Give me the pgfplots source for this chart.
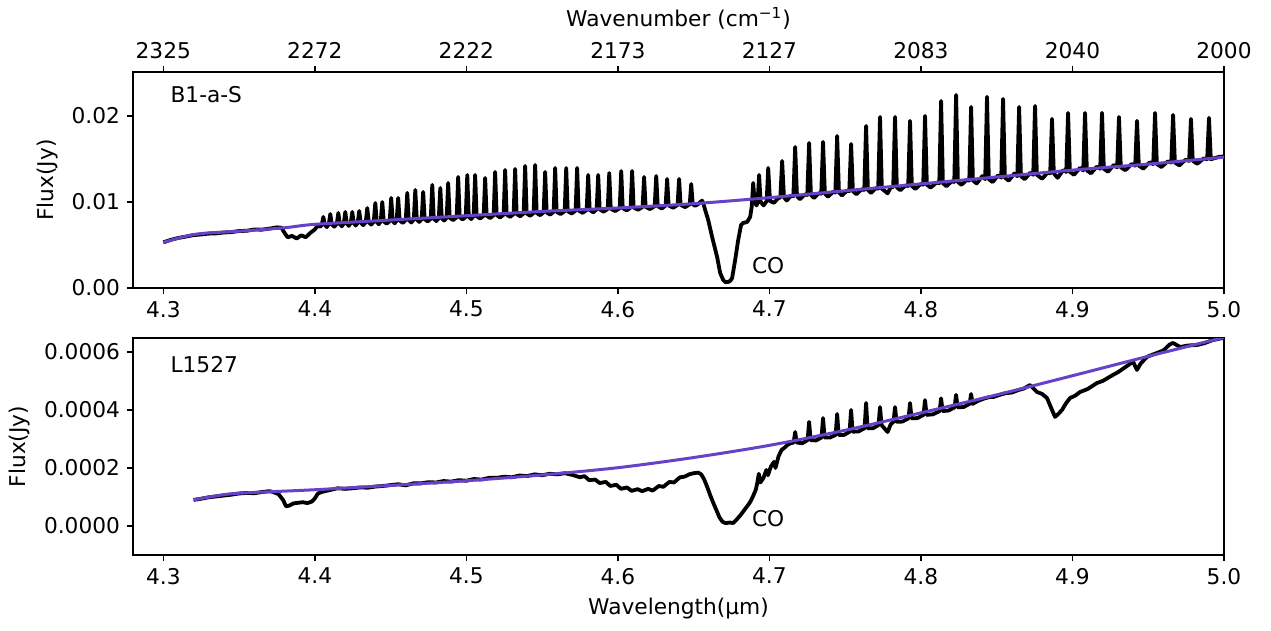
\documentclass[border=0pt]{standalone}
\usepackage{fontspec}
\setmainfont{DejaVu Sans}
\usepackage{pgfplots}
\pgfplotsset{compat=1.18}
\definecolor{fitc}{RGB}{102,66,200}
\pgfplotsset{
  every axis/.append style={font=\fontsize{10.85bp}{13bp}\selectfont},
  myax/.style={
    scale only axis, width=545.5bp, anchor=north west,
    xmin=4.28, xmax=5.0,
    tick align=outside, major tick length=3bp,
    xtick pos=bottom, ytick pos=left,
    xtick={4.3,4.4,4.5,4.6,4.7,4.8,4.9,5.0},
    xticklabel={\pgfmathprintnumber[assume math mode=true,fixed,fixed zerofill,precision=1]{\tick}},
    axis line style={line width=0.8bp},
    every tick/.style={black, line width=0.8bp},
    scaled ticks=false,
    ylabel={Flux(Jy)},
  },
  spec/.style={black, line width=1.9bp, line join=round},
  fit/.style={fitc, line width=1.5bp, smooth},
}
\begin{document}
\begin{tikzpicture}
\useasboundingbox (0,0) rectangle (635.5bp,-315.5bp);
% ---------- top panel ----------
\begin{axis}[myax, at={(66.5bp,-36bp)}, height=108bp,
  ymin=0, ymax=0.0251,
  ytick={0,0.01,0.02},
  yticklabel={\pgfmathprintnumber[assume math mode=true,fixed,fixed zerofill,precision=2]{\tick}},
]
\addplot[spec] coordinates {
(4.300,0.00530)(4.305,0.00560)(4.310,0.00582)(4.315,0.00598)(4.320,0.00615)(4.325,0.00622)
(4.330,0.00632)(4.335,0.00635)(4.340,0.00645)(4.345,0.00650)(4.350,0.00662)(4.355,0.00665)
(4.360,0.00680)(4.365,0.00678)(4.370,0.00690)(4.375,0.00705)(4.378,0.00700)(4.380,0.00640)
(4.382,0.00590)(4.385,0.00605)(4.388,0.00575)(4.391,0.00612)(4.394,0.00590)(4.397,0.00640)
(4.400,0.00680)(4.402,0.00730)(4.4035,0.00710)
(4.4046,0.00735)(4.4056,0.00826)(4.4066,0.00735)(4.4079,0.00708)
(4.4092,0.00740)(4.4102,0.00860)(4.4112,0.00740)(4.41285,0.00713)
(4.4145,0.00745)(4.4155,0.00872)(4.4165,0.00745)(4.4178,0.00717)
(4.4191,0.00750)(4.4201,0.00884)(4.4211,0.00750)(4.4224,0.00722)
(4.4237,0.00754)(4.4247,0.00884)(4.4257,0.00754)(4.4270,0.00726)
(4.4283,0.00759)(4.4293,0.00895)(4.4303,0.00759)(4.43195,0.00731)
(4.4336,0.00764)(4.4346,0.00930)(4.4356,0.00764)(4.43725,0.00737)
(4.4389,0.00769)(4.4399,0.00988)(4.4409,0.00769)(4.4422,0.00741)
(4.4435,0.00774)(4.4445,0.01000)(4.4455,0.00774)(4.44745,0.00747)
(4.4494,0.00779)(4.4504,0.01047)(4.4514,0.00779)(4.4527,0.00752)
(4.4540,0.00784)(4.4550,0.01047)(4.4560,0.00784)(4.4580,0.00757)
(4.4600,0.00790)(4.4610,0.01105)(4.4620,0.00790)(4.46365,0.00762)
(4.4653,0.00795)(4.4663,0.01140)(4.4673,0.00795)(4.4689,0.00768)
(4.4705,0.00800)(4.4715,0.01116)(4.4725,0.00800)(4.4745,0.00773)
(4.4765,0.00806)(4.4775,0.01198)(4.4785,0.00806)(4.48015,0.00778)
(4.4818,0.00811)(4.4828,0.01163)(4.4838,0.00811)(4.4854,0.00784)
(4.4870,0.00816)(4.4880,0.01221)(4.4890,0.00816)(4.4913,0.00789)
(4.4936,0.00823)(4.4946,0.01291)(4.4956,0.00823)(4.4976,0.00796)
(4.4996,0.00829)(4.5006,0.01314)(4.5016,0.00829)(4.5032,0.00801)
(4.5048,0.00834)(4.5058,0.01314)(4.5068,0.00834)(4.5091,0.00807)
(4.5114,0.00840)(4.5124,0.01279)(4.5134,0.00840)(4.5157,0.00813)
(4.5180,0.00847)(4.5190,0.01349)(4.5200,0.00847)(4.5223,0.00820)
(4.5246,0.00853)(4.5256,0.01372)(4.5266,0.00853)(4.5289,0.00826)
(4.5312,0.00860)(4.5322,0.01384)(4.5332,0.00860)(4.5355,0.00833)
(4.5378,0.00866)(4.5388,0.01419)(4.5398,0.00866)(4.5421,0.00839)
(4.5444,0.00872)(4.5454,0.01430)(4.5464,0.00872)(4.5487,0.00846)
(4.5510,0.00879)(4.5520,0.01349)(4.5530,0.00879)(4.5553,0.00852)
(4.5576,0.00885)(4.5586,0.01395)(4.5596,0.00885)(4.56225,0.00859)
(4.5649,0.00893)(4.5659,0.01395)(4.5669,0.00893)(4.5695,0.00866)
(4.5721,0.00900)(4.5731,0.01395)(4.5741,0.00900)(4.57675,0.00873)
(4.5794,0.00907)(4.5804,0.01314)(4.5814,0.00907)(4.5837,0.00880)
(4.5860,0.00913)(4.5870,0.01314)(4.5880,0.00913)(4.59065,0.00887)
(4.5933,0.00920)(4.5943,0.01337)(4.5953,0.00920)(4.59825,0.00894)
(4.6012,0.00928)(4.6022,0.01360)(4.6032,0.00928)(4.6058,0.00902)
(4.6084,0.00935)(4.6094,0.01360)(4.6104,0.00935)(4.61335,0.00909)
(4.6163,0.00943)(4.6173,0.01291)(4.6183,0.00943)(4.6213,0.00917)
(4.6243,0.00951)(4.6253,0.01302)(4.6263,0.00951)(4.6289,0.00924)
(4.6315,0.00958)(4.6325,0.01267)(4.6335,0.00958)(4.63645,0.00932)
(4.6394,0.00966)(4.6404,0.01267)(4.6414,0.00966)(4.6444,0.00940)
(4.6474,0.00973)(4.6484,0.01209)(4.6494,0.00973)
(4.6510,0.00955)(4.6530,0.00975)(4.6545,0.01000)(4.6556,0.01015)(4.6563,0.00988)
(4.6576,0.00907)(4.6596,0.00791)(4.6622,0.00593)(4.6655,0.00360)(4.6675,0.00174)
(4.6695,0.00093)(4.6710,0.00068)(4.6728,0.00070)(4.6742,0.00085)(4.6754,0.00116)
(4.6774,0.00326)(4.6794,0.00558)(4.6813,0.00733)(4.6827,0.00756)(4.6853,0.00767)
(4.6873,0.00826)(4.6883,0.00942)
(4.6893,0.01221)(4.6903,0.00990)(4.6915,0.00960)(4.6922,0.00990)
(4.6932,0.01314)(4.6942,0.01000)(4.6962,0.00960)(4.6982,0.01010)
(4.6992,0.01395)(4.7004,0.01010)(4.7030,0.00990)(4.7055,0.01040)
(4.7072,0.01053)(4.7084,0.01477)(4.7096,0.01053)(4.7114,0.01017)(4.7144,0.01073)
(4.7158,0.01067)(4.7170,0.01640)(4.7182,0.01067)(4.7202,0.01032)(4.7234,0.01087)
(4.7250,0.01081)(4.7262,0.01686)(4.7274,0.01081)(4.7294,0.01046)(4.7326,0.01101)
(4.7342,0.01096)(4.7354,0.01698)(4.7366,0.01096)(4.7387,0.01061)(4.7419,0.01116)
(4.7435,0.01110)(4.7447,0.01767)(4.7459,0.01110)(4.7479,0.01075)(4.7511,0.01130)
(4.7527,0.01125)(4.7539,0.01674)(4.7551,0.01125)(4.7574,0.01090)(4.7608,0.01146)
(4.7626,0.01140)(4.7638,0.01884)(4.7650,0.01140)(4.7670,0.01105)(4.7702,0.01160)
(4.7718,0.01155)(4.7730,0.01988)(4.7742,0.01155)(4.7780,0.01100)(4.7800,0.01170)
(4.7817,0.01170)(4.7829,0.01988)(4.7841,0.01170)(4.7864,0.01136)(4.7898,0.01191)
(4.7916,0.01186)(4.7928,0.01942)(4.7940,0.01186)(4.7963,0.01151)(4.7997,0.01207)
(4.8015,0.01201)(4.8027,0.02000)(4.8039,0.01201)(4.8064,0.01167)(4.8101,0.01223)
(4.8121,0.01218)(4.8133,0.02174)(4.8145,0.01218)(4.8168,0.01183)(4.8202,0.01238)
(4.8220,0.01233)(4.8232,0.02244)(4.8244,0.01233)(4.8267,0.01199)(4.8301,0.01254)
(4.8319,0.01249)(4.8331,0.02105)(4.8343,0.01249)(4.8368,0.01215)(4.8405,0.01300)
(4.8424,0.01265)(4.8436,0.02221)(4.8448,0.01265)(4.8473,0.01231)(4.8510,0.01310)
(4.8530,0.01282)(4.8542,0.02198)(4.8554,0.01282)(4.8579,0.01248)(4.8616,0.01330)
(4.8636,0.01299)(4.8648,0.02105)(4.8660,0.01299)(4.8685,0.01265)(4.8722,0.01340)
(4.8741,0.01315)(4.8753,0.02116)(4.8765,0.01315)(4.8800,0.01270)(4.8835,0.01340)
(4.8853,0.01333)(4.8865,0.01965)(4.8877,0.01333)(4.8902,0.01280)(4.8939,0.01370)
(4.8959,0.01349)(4.8971,0.02035)(4.8983,0.01349)(4.9010,0.01316)(4.9049,0.01395)
(4.9071,0.01367)(4.9083,0.02035)(4.9095,0.01367)(4.9122,0.01333)(4.9161,0.01410)
(4.9183,0.01385)(4.9195,0.02035)(4.9207,0.01385)(4.9234,0.01351)(4.9273,0.01430)
(4.9295,0.01402)(4.9307,0.01988)(4.9319,0.01402)(4.9349,0.01369)(4.9390,0.01440)
(4.9414,0.01421)(4.9426,0.01942)(4.9438,0.01421)(4.9468,0.01387)(4.9509,0.01460)
(4.9533,0.01440)(4.9545,0.02035)(4.9557,0.01440)(4.9587,0.01406)(4.9628,0.01470)
(4.9652,0.01458)(4.9664,0.02012)(4.9676,0.01458)(4.9705,0.01425)(4.9746,0.01490)
(4.9770,0.01477)(4.9782,0.01965)(4.9794,0.01477)(4.9824,0.01444)(4.9865,0.01505)
(4.9889,0.01496)(4.9901,0.01977)(4.9913,0.01496)(4.9940,0.01510)(4.9970,0.01525)
(5.0000,0.01530)
};
\addplot[fit] coordinates {
(4.300,0.0053)(4.310,0.0058)(4.320,0.0062)(4.330,0.0064)(4.350,0.0066)(4.380,0.0070)
(4.400,0.0074)(4.450,0.0079)(4.500,0.0084)(4.550,0.0089)(4.600,0.0093)(4.650,0.0098)
(4.700,0.0105)(4.750,0.0113)(4.800,0.0121)(4.850,0.0129)(4.900,0.0137)(4.950,0.0144)
(5.000,0.0152)
};
\node[anchor=west] at (rel axis cs:0.028,0.894) {B1-a-S};
\node at (axis cs:4.6992,0.00256) {CO};
\end{axis}
% ---------- top wavenumber axis ----------
\begin{axis}[scale only axis, width=545.5bp, height=108bp, at={(66.5bp,-36bp)}, anchor=north west,
  xmin=4.28, xmax=5.0, ymin=0, ymax=1,
  axis x line*=top, axis y line=none,
  tick align=outside, major tick length=3bp,
  axis line style={line width=0.8bp},
  every tick/.style={black, line width=0.8bp},
  xtick={4.3,4.4,4.5,4.6,4.7,4.8,4.9,5.0},
  xticklabels={2325,2272,2222,2173,2127,2083,2040,2000},
  xlabel={Wavenumber (cm\textsuperscript{−1})},
]
\addplot[draw=none] coordinates {(4.5,0.5)};
\end{axis}
% ---------- bottom panel ----------
\begin{axis}[myax, at={(66.5bp,-169bp)}, height=108.5bp,
  ymin=-0.0001, ymax=0.000648,
  ytick={0,0.0002,0.0004,0.0006},
  yticklabel={\pgfmathprintnumber[assume math mode=true,fixed,fixed zerofill,precision=4]{\tick}},
  xlabel={Wavelength(µm)},
]
\addplot[spec] coordinates {
(4.320,0.000090)(4.325,0.000094)(4.330,0.000099)(4.335,0.000102)(4.340,0.000105)(4.345,0.000108)
(4.350,0.000112)(4.355,0.000114)(4.360,0.000113)(4.365,0.000117)(4.370,0.000120)(4.372,0.000118)
(4.376,0.000110)(4.379,0.000090)(4.381,0.000068)(4.383,0.000070)(4.386,0.000078)(4.389,0.000080)
(4.392,0.000082)(4.395,0.000079)(4.398,0.000084)(4.400,0.000095)(4.402,0.000112)(4.405,0.000118)
(4.410,0.000124)(4.415,0.000130)(4.420,0.000128)(4.425,0.000130)(4.430,0.000133)(4.435,0.000132)
(4.440,0.000136)(4.445,0.000138)(4.450,0.000141)(4.455,0.000144)(4.460,0.000140)(4.465,0.000147)
(4.470,0.000147)(4.475,0.000151)(4.480,0.000150)(4.485,0.000155)(4.490,0.000153)(4.495,0.000158)
(4.500,0.000156)(4.505,0.000162)(4.510,0.000160)(4.515,0.000166)(4.520,0.000166)(4.525,0.000170)
(4.530,0.000168)(4.535,0.000174)(4.540,0.000172)(4.545,0.000178)(4.550,0.000175)(4.555,0.000180)
(4.560,0.000178)(4.565,0.000182)(4.570,0.000176)(4.575,0.000168)(4.578,0.000172)(4.581,0.000158)
(4.585,0.000160)(4.588,0.000148)(4.592,0.000152)(4.595,0.000138)(4.599,0.000142)(4.602,0.000128)
(4.606,0.000133)(4.609,0.000121)(4.613,0.000127)(4.616,0.000120)(4.620,0.000128)(4.623,0.000122)
(4.627,0.000138)(4.630,0.000135)(4.634,0.000152)(4.637,0.000150)(4.641,0.000168)(4.644,0.000170)
(4.647,0.000178)(4.650,0.000182)(4.653,0.000184)(4.655,0.000178)(4.657,0.000160)(4.659,0.000134)
(4.661,0.000105)(4.663,0.000079)(4.665,0.000055)(4.667,0.000030)(4.669,0.000015)(4.671,0.000010)
(4.674,0.000012)(4.676,0.000010)(4.678,0.000020)(4.681,0.000038)(4.683,0.000052)(4.685,0.000066)
(4.687,0.000080)(4.689,0.000100)(4.691,0.000125)(4.692,0.000148)(4.693,0.000180)(4.694,0.000150)
(4.696,0.000165)(4.698,0.000193)(4.699,0.000175)(4.701,0.000205)(4.703,0.000221)(4.704,0.000200)
(4.706,0.000240)(4.708,0.000262)(4.710,0.000270)(4.712,0.000280)(4.714,0.000285)
(4.7160,0.000288)(4.7170,0.000324)(4.7180,0.000288)(4.7216,0.000285)
(4.7252,0.000296)(4.7262,0.000359)(4.7272,0.000296)(4.7308,0.000295)
(4.7344,0.000305)(4.7354,0.000372)(4.7364,0.000305)(4.7400,0.000305)
(4.7437,0.000314)(4.7447,0.000386)(4.7457,0.000314)(4.7493,0.000314)
(4.7529,0.000325)(4.7539,0.000400)(4.7549,0.000325)(4.7588,0.000326)
(4.7628,0.000337)(4.7638,0.000424)(4.7648,0.000337)(4.7684,0.000337)
(4.7720,0.000348)(4.7730,0.000410)(4.7740,0.000348)(4.7780,0.000324)(4.7800,0.000350)
(4.7819,0.000359)(4.7829,0.000410)(4.7839,0.000359)(4.7878,0.000360)
(4.7918,0.000371)(4.7928,0.000424)(4.7938,0.000371)(4.7977,0.000372)
(4.8017,0.000383)(4.8027,0.000434)(4.8037,0.000383)(4.8080,0.000385)
(4.8123,0.000396)(4.8133,0.000440)(4.8143,0.000396)(4.8182,0.000398)
(4.8222,0.000409)(4.8232,0.000452)(4.8242,0.000409)(4.8281,0.000410)
(4.8321,0.000421)(4.8331,0.000455)(4.8341,0.000421)
(4.8380,0.000432)(4.8420,0.000440)(4.8450,0.000444)(4.8480,0.000445)(4.8520,0.000452)
(4.8560,0.000458)(4.8600,0.000460)(4.8640,0.000468)(4.8680,0.000474)(4.8720,0.000486)
(4.8766,0.000462)(4.8800,0.000455)(4.8832,0.000441)(4.8865,0.000400)(4.8885,0.000376)
(4.8910,0.000388)(4.8931,0.000400)(4.8960,0.000425)(4.8984,0.000441)(4.9020,0.000450)
(4.9050,0.000462)(4.9100,0.000472)(4.9162,0.000493)(4.9200,0.000500)(4.9268,0.000521)
(4.9300,0.000530)(4.9350,0.000548)(4.9400,0.000566)(4.9426,0.000538)(4.9450,0.000560)
(4.9492,0.000583)(4.9550,0.000595)(4.9600,0.000605)(4.9640,0.000625)(4.9664,0.000631)
(4.9710,0.000617)(4.9760,0.000622)(4.9822,0.000624)(4.9870,0.000630)(4.9927,0.000641)
(4.9993,0.000648)
};
\addplot[fit] coordinates {
(4.320,0.000090)(4.335,0.000104)(4.350,0.000113)(4.400,0.000125)(4.450,0.000140)
(4.500,0.000156)(4.550,0.000176)(4.600,0.000201)(4.650,0.000236)(4.700,0.000278)
(4.750,0.000330)(4.800,0.000390)(4.850,0.000452)(4.900,0.000518)(4.950,0.000585)
(5.000,0.000650)
};
\node[anchor=west] at (rel axis cs:0.028,0.876) {L1527};
\node at (axis cs:4.6992,0.0000241) {CO};
\end{axis}
\end{tikzpicture}
\end{document}
